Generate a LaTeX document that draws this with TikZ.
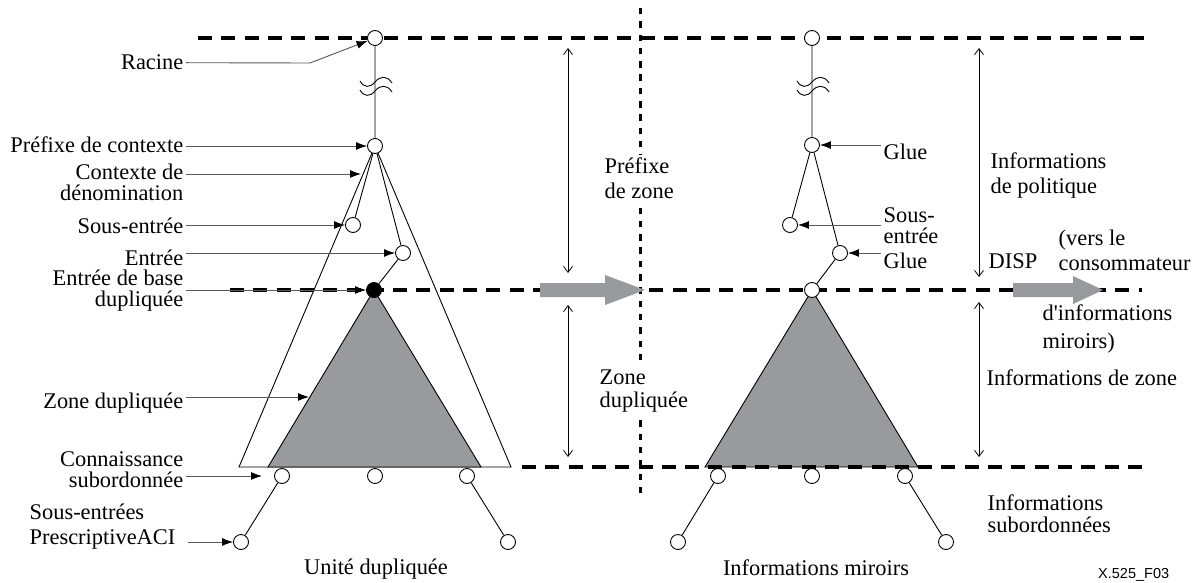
\documentclass[tikz,border=0pt]{standalone}
\usepackage{fontspec}
\setmainfont{Liberation Serif}[Ligatures=TeXOff]
\newfontfamily\repfont{Liberation Sans}
\usetikzlibrary{arrows.meta}
\definecolor{gristri}{RGB}{152,154,158}
\tikzset{
  noeud/.style={circle,draw,fill=white,minimum size=15pt,inner sep=0pt,line width=0.9pt},
  plein/.style={noeud,fill=black},
  etiq/.style={inner sep=2.5pt,font=\fontsize{22.4}{25}\selectfont},
  trait/.style={line width=0.9pt},
  fleche/.style={draw=black!65,line width=0.9pt,-{Latex[length=11pt,width=8pt,color=black]}},
  cote/.style={line width=0.8pt,{Straight Barb[length=6pt,width=9pt]}-{Straight Barb[length=6pt,width=9pt]}},
  tirets/.style={line width=3.2pt,dash pattern=on 14pt off 9.3pt},
  pointille/.style={line width=3pt,dash pattern=on 6.5pt off 6.8pt},
  grosse/.style={fill=gristri,draw=none},
  coupure/.pic={
    \draw[line width=0.9pt] (-15,-1) .. controls (-11,6) and (-5,6) .. (0,0) .. controls (5,-6) and (12,-7) .. (17,1);
    \draw[line width=0.9pt] (-15,8) .. controls (-11,15) and (-5,15) .. (0,9) .. controls (5,3) and (12,2) .. (17,10);
  }
}
\begin{document}
\begin{tikzpicture}[x=1pt,y=-1pt]
  \useasboundingbox (0,0) rectangle (1196,583);
  \draw[trait,fill=white] (375,146) -- (239,467) -- (511,467) -- cycle;
  \draw[trait,fill=gristri] (374,290) -- (268,467) -- (481,467) -- cycle;
  \draw[trait,fill=gristri] (812,290) -- (705,467) -- (918,467) -- cycle;
  \draw[tirets] (198,38) -- (1145,38);
  \draw[tirets] (230,290) -- (1142,290);
  \draw[tirets] (522,467) -- (1145,467);
  \draw[pointille] (640,8) -- (640,495);
  \fill[grosse] (540,283) -- (605,283) -- (605,275) -- (645,290) -- (605,305) -- (605,297) -- (540,297) -- cycle;
  \fill[grosse] (1013,283) -- (1073,283) -- (1073,276) -- (1103,290) -- (1073,304) -- (1073,297) -- (1013,297) -- cycle;

  \node[noeud] (racine) at (375,38) {};
  \node[noeud] (prefixe) at (375,146) {};
  \node[noeud] (sousentree) at (353,225) {};
  \node[noeud] (entree) at (403,253) {};
  \node[plein] (base) at (374,290) {};
  \node[noeud] (sub1) at (282,476) {};
  \node[noeud] (sub2) at (375,476) {};
  \node[noeud] (sub3) at (467,476) {};
  \node[noeud] (aci1) at (241,542) {};
  \node[noeud] (aci2) at (508,542) {};

  \node[noeud] (mracine) at (812,38) {};
  \node[noeud] (glue) at (812,145) {};
  \node[noeud] (msousentree) at (790,225) {};
  \node[noeud] (glueb) at (840,253) {};
  \node[noeud] (mbase) at (812,290) {};
  \node[noeud] (msub1) at (718,476) {};
  \node[noeud] (msub2) at (812,476) {};
  \node[noeud] (msub3) at (905,476) {};
  \node[noeud] (maci1) at (678,542) {};
  \node[noeud] (maci2) at (946,542) {};

  \draw[trait] (racine) -- (prefixe) (prefixe) -- (sousentree) (prefixe) -- (entree)
    (entree) -- (base) (sub1) -- (aci1) (sub3) -- (aci2);
  \draw[trait] (mracine) -- (glue) (glue) -- (msousentree) (glue) -- (glueb)
    (glueb) -- (mbase) (msub1) -- (maci1) (msub3) -- (maci2);
  \pic at (375,82) {coupure};
  \pic at (812,82) {coupure};

  \node[etiq,anchor=base east] (lracine) at (186,70) {Racine};
  \node[etiq,anchor=base east] (lprefixe) at (186,153) {Préfixe de contexte};
  \node[etiq,anchor=east,align=right] (lcontexte) at (186,182) {Contexte de\\[-4pt]dénomination};
  \node[etiq,anchor=base east] (lsous) at (186,233) {Sous-entrée};
  \node[etiq,anchor=base east] (lentree) at (186,265) {Entrée};
  \node[etiq,anchor=east,align=right] (lbase) at (186,291) {Entrée de base\\[-4pt]dupliquée};
  \node[etiq,anchor=base east] (lzone) at (186,408) {Zone dupliquée};
  \node[etiq,anchor=east,align=right] (lconn) at (186,470) {Connaissance\\[-4pt]subordonnée};
  \node[etiq,anchor=west,align=left] (lpresc) at (27,527) {Sous-entrées\\PrescriptiveACI};
  \coordinate (coude) at (310,63);
  \coordinate (cdenom) at (361,174);
  \coordinate (czone) at (309,397);
  \coordinate (cconn) at (262,476);
  \draw[fleche] (lracine.east) -- (coude) -- (racine);
  \draw[fleche] (lprefixe.east |- prefixe) -- (prefixe);
  \draw[fleche] (lcontexte.east |- cdenom) -- (cdenom);
  \draw[fleche] (lsous.east |- sousentree) -- (sousentree);
  \draw[fleche] (lentree.east |- entree) -- (entree);
  \draw[fleche] (lbase.east |- base) -- (base);
  \draw[fleche] (lzone.east |- czone) -- (czone);
  \draw[fleche] (lconn.east |- cconn) -- (cconn);
  \draw[fleche] ([xshift=10pt]lpresc.east |- aci1) -- (aci1);

  \node[etiq,anchor=base west] (lglue) at (881,160) {Glue};
  \node[etiq,anchor=west,align=left] (lmsous) at (881,226) {Sous-\\[-4pt]entrée};
  \node[etiq,anchor=base west] (lglueb) at (881,268) {Glue};
  \draw[fleche] (lglue.west |- glue) -- (glue);
  \draw[fleche] (lmsous.west |- msousentree) -- (msousentree);
  \draw[fleche] (lglueb.west |- glueb) -- (glueb);

  \coordinate (pz1) at (568,48); \coordinate (pz2) at (568,273);
  \coordinate (zd1) at (568,305); \coordinate (zd2) at (568,457);
  \coordinate (ip1) at (979,48); \coordinate (ip2) at (979,277);
  \coordinate (iz1) at (979,302); \coordinate (iz2) at (979,457);
  \draw[cote] (pz1) -- (pz2);
  \draw[cote] (zd1) -- (zd2);
  \draw[cote] (ip1) -- (ip2);
  \draw[cote] (iz1) -- (iz2);
  \node[etiq,fill=white,anchor=west,align=left] (lpz) at (602,178) {Préfixe\\de zone};
  \node[etiq,fill=white,anchor=west,align=left] (lzd) at (597,391) {Zone\\[-2pt]dupliquée};
  \node[etiq,anchor=west,align=left] (lpol) at (988,175) {Informations\\de politique};
  \node[etiq,anchor=base west] (ldisp) at (986,268) {DISP};
  \node[etiq,anchor=west,align=left] (lvers) at (1056,250) {(vers le\\consommateur};
  \node[etiq,anchor=west,align=left] (lmir) at (1040,329) {d'informations\\[3pt]miroirs)};
  \node[etiq,anchor=base west] (linfz) at (984,385) {Informations de zone};
  \node[etiq,anchor=west,align=left] (lisub) at (985,514) {Informations\\[-3pt]subordonnées};
  \node[etiq,anchor=base] (lunite) at (376,574) {Unité dupliquée};
  \node[etiq,anchor=base] (lmiroir) at (816,575) {Informations miroirs};
  \node[inner sep=0pt,anchor=base west,font=\repfont\fontsize{14.5}{16}\selectfont] (lref) at (1098,578) {X.525\_F03};
\end{tikzpicture}
\end{document}
